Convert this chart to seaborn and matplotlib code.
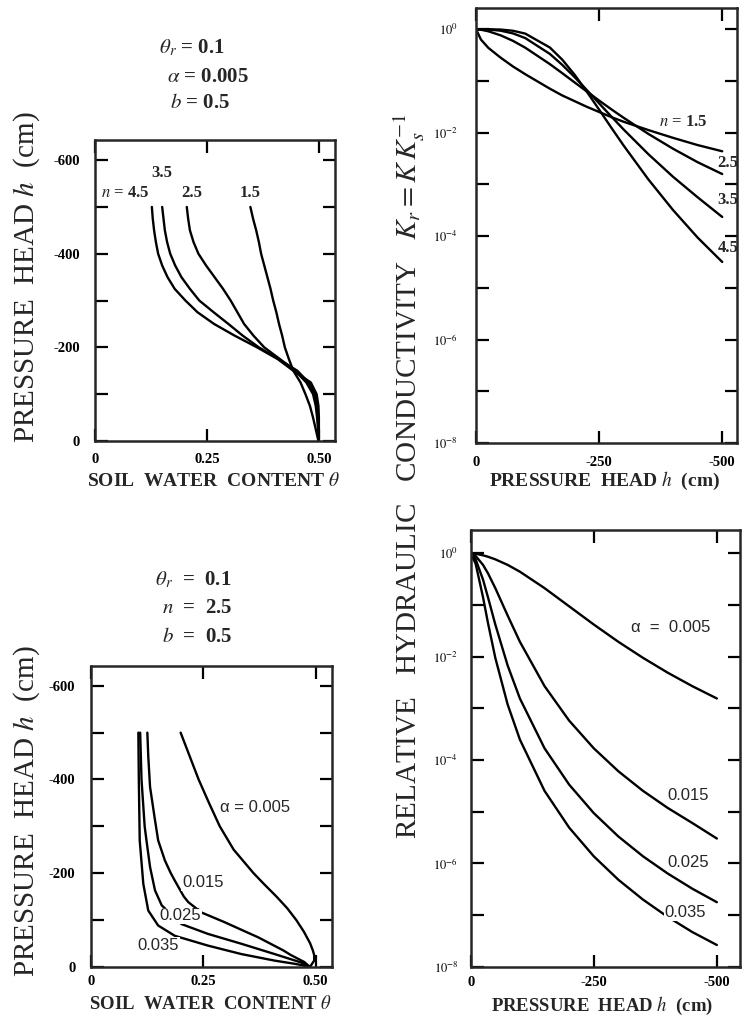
import numpy as np
import pandas as pd
import matplotlib
matplotlib.use("Agg")
import matplotlib.pyplot as plt
import seaborn as sns
from matplotlib.ticker import NullLocator

# ------------------------------------------------------------------ data
# Top-left: soil water content vs pressure head (alpha = 0.005)
h_tl = [0, -25, -50, -75, -100, -125, -150, -175, -200, -225, -250, -275, -300, -325, -350, -375, -400, -425, -450, -475, -500]
theta_tl_n15 = [0.499, 0.493, 0.487, 0.480, 0.470, 0.459, 0.443, 0.433, 0.424, 0.418, 0.411, 0.405, 0.398, 0.392, 0.385, 0.378, 0.371, 0.366, 0.360, 0.353, 0.347]
theta_tl_n25 = [0.499, 0.498, 0.496, 0.493, 0.487, 0.472, 0.447, 0.413, 0.378, 0.354, 0.333, 0.318, 0.303, 0.286, 0.267, 0.248, 0.231, 0.220, 0.212, 0.208, 0.205]
theta_tl_n35 = [0.499, 0.499, 0.498, 0.496, 0.491, 0.477, 0.452, 0.410, 0.366, 0.330, 0.298, 0.265, 0.233, 0.212, 0.193, 0.179, 0.168, 0.161, 0.156, 0.153, 0.150]
theta_tl_n45 = [0.500, 0.500, 0.500, 0.499, 0.495, 0.482, 0.443, 0.408, 0.362, 0.312, 0.266, 0.229, 0.202, 0.178, 0.162, 0.150, 0.141, 0.136, 0.132, 0.129, 0.127]

# Top-right: relative hydraulic conductivity (log10) vs pressure head
h_tr = [0, -10, -25, -50, -75, -100, -150, -175, -200, -225, -250, -275, -300, -350, -400, -450, -500]
logkr_tr_n15 = [0, -0.20, -0.36, -0.55, -0.72, -0.87, -1.15, -1.28, -1.39, -1.50, -1.60, -1.70, -1.79, -1.95, -2.10, -2.24, -2.36]
logkr_tr_n25 = [0, -0.01, -0.04, -0.118, -0.225, -0.357, -0.675, -0.849, -1.027, -1.204, -1.379, -1.550, -1.714, -2.024, -2.310, -2.571, -2.80]
logkr_tr_n35 = [0, 0, -0.005, -0.029, -0.081, -0.171, -0.478, -0.688, -0.924, -1.176, -1.433, -1.690, -1.941, -2.416, -2.852, -3.249, -3.63]
logkr_tr_n45 = [0, 0, -0.001, -0.007, -0.030, -0.085, -0.354, -0.587, -0.877, -1.207, -1.555, -1.907, -2.252, -2.904, -3.495, -4.028, -4.50]

# Bottom-left: soil water content vs pressure head (n = 2.5)
h_bl_a005 = [0, -13, -25, -35, -50, -75, -100, -125, -150, -175, -200, -225, -250, -300, -350, -400, -450, -500]
theta_bl_a005 = [0.488, 0.497, 0.497, 0.494, 0.488, 0.474, 0.457, 0.437, 0.413, 0.387, 0.362, 0.340, 0.318, 0.287, 0.263, 0.240, 0.220, 0.200]
h_bl_a015 = [0, -10, -25, -35, -50, -63, -75, -95, -116, -138, -150, -184, -200, -227, -270, -313, -384, -450, -500]
theta_bl_a015 = [0.487, 0.475, 0.445, 0.428, 0.398, 0.372, 0.344, 0.298, 0.246, 0.217, 0.207, 0.187, 0.178, 0.165, 0.150, 0.143, 0.132, 0.128, 0.126]
h_bl_a025 = [0, -9, -27, -49, -70, -91, -131, -163, -213, -270, -300, -400, -500]
theta_bl_a025 = [0.487, 0.468, 0.409, 0.335, 0.261, 0.202, 0.158, 0.143, 0.132, 0.124, 0.120, 0.113, 0.110]
h_bl_a035 = [0, -6, -13, -27, -45, -66, -88, -120, -177, -270, -400, -500]
theta_bl_a035 = [0.487, 0.455, 0.409, 0.335, 0.261, 0.187, 0.150, 0.128, 0.117, 0.109, 0.107, 0.106]

# Bottom-right: relative hydraulic conductivity (log10) vs pressure head
h_br = [0, -10, -25, -35, -50, -75, -100, -150, -200, -250, -300, -350, -400, -450, -500]
logkr_br_a005 = [0, -0.01, -0.04, -0.067, -0.118, -0.225, -0.357, -0.675, -1.027, -1.379, -1.714, -2.024, -2.310, -2.571, -2.81]
logkr_br_a015 = [0, -0.053, -0.225, -0.386, -0.675, -1.204, -1.714, -2.571, -3.239, -3.774, -4.219, -4.598, -4.927, -5.219, -5.52]
logkr_br_a025 = [0, -0.118, -0.509, -0.849, -1.379, -2.170, -2.812, -3.774, -4.477, -5.028, -5.481, -5.864, -6.196, -6.490, -6.752]
logkr_br_a035 = [0, -0.201, -0.849, -1.345, -2.024, -2.925, -3.607, -4.598, -5.309, -5.864, -6.318, -6.702, -7.035, -7.329, -7.58]

theta_ticks = [0, 0.25, 0.50]
theta_ticklabels = ["0", "0.25", "0.50"]
h_ticks = [0, -100, -200, -300, -400, -500, -600]
h_ticklabels = ["0", "", "-200", "", "-400", "", "-600"]
hx_ticks = [0, -250, -500]
hx_ticklabels = ["0", "-250", "-500"]
kr_ticks = [1e0, 1e-1, 1e-2, 1e-3, 1e-4, 1e-5, 1e-6, 1e-7, 1e-8]
kr_ticklabels = [r"$10^{0}$", "", r"$10^{-2}$", "", r"$10^{-4}$", "", r"$10^{-6}$", "", r"$10^{-8}$"]

# ------------------------------------------------------------------ style
sns.set_style("ticks")
plt.rcParams["font.family"] = ["Liberation Serif", "DejaVu Serif"]
plt.rcParams["mathtext.fontset"] = "stix"
plt.rcParams["axes.linewidth"] = 1.8

W, H = 745, 1018
fig = plt.figure(figsize=(W / 100, H / 100), dpi=100)


def box(x0, y0, x1, y1):
    return [x0 / W, 1 - y1 / H, (x1 - x0) / W, (y1 - y0) / H]


def fx(px):
    return px / W


def fy(py):
    return 1 - py / H


ax_tl = fig.add_axes(box(95, 140, 335, 441))
ax_tr = fig.add_axes(box(476, 8, 737, 443))
ax_bl = fig.add_axes(box(90.7, 665.7, 331.7, 966.7))
ax_br = fig.add_axes(box(470.7, 530, 740, 966.7))

LW = 1.7


def draw(ax, frames, x, y):
    df = pd.concat(frames, ignore_index=True)
    sns.lineplot(data=df, x=x, y=y, hue="curve", palette=["black"] * df["curve"].nunique(),
                 sort=False, estimator=None, legend=False, lw=LW, ax=ax)


# top-left
draw(ax_tl, [pd.DataFrame({"theta": t, "h": h_tl, "curve": c}) for t, c in
             [(theta_tl_n15, "1.5"), (theta_tl_n25, "2.5"), (theta_tl_n35, "3.5"), (theta_tl_n45, "4.5")]],
     "theta", "h")
# bottom-left
draw(ax_bl, [pd.DataFrame({"theta": t, "h": hh, "curve": c}) for t, hh, c in
             [(theta_bl_a005, h_bl_a005, "a005"), (theta_bl_a015, h_bl_a015, "a015"),
              (theta_bl_a025, h_bl_a025, "a025"), (theta_bl_a035, h_bl_a035, "a035")]],
     "theta", "h")
# top-right
draw(ax_tr, [pd.DataFrame({"h": h_tr, "kr": 10 ** np.array(k), "curve": c}) for k, c in
             [(logkr_tr_n15, "1.5"), (logkr_tr_n25, "2.5"), (logkr_tr_n35, "3.5"), (logkr_tr_n45, "4.5")]],
     "h", "kr")
# bottom-right
draw(ax_br, [pd.DataFrame({"h": h_br, "kr": 10 ** np.array(k), "curve": c}) for k, c in
             [(logkr_br_a005, "a005"), (logkr_br_a015, "a015"), (logkr_br_a025, "a025"), (logkr_br_a035, "a035")]],
     "h", "kr")

tick_kw = dict(which="both", direction="in", top=True, right=True, length=9, width=1.6, colors="black")

for ax, xpad in ((ax_tl, 9), (ax_bl, 6)):
    ax.set_xlim(0, 0.536)
    ax.set_ylim(0, -643)
    ax.set_xticks(theta_ticks, labels=theta_ticklabels, fontsize=10.5, fontweight="bold")
    ax.set_yticks(h_ticks, labels=h_ticklabels, fontsize=10.5, fontweight="bold")
    ax.tick_params(**tick_kw)
    ax.tick_params(axis="y", pad=11)
    ax.tick_params(axis="x", pad=xpad)
    ax.set_xlabel("")
    ax.set_ylabel("")

for ax, xr, ytop, xpad, ypad in ((ax_tr, -530, 10 ** 0.41, 9, 13), (ax_br, -547, 10 ** 0.45, 7, 9)):
    ax.set_yscale("log")
    ax.set_xlim(0, xr)
    ax.set_ylim(1e-8, ytop)
    ax.set_yticks(kr_ticks, labels=kr_ticklabels, fontsize=9)
    ax.yaxis.set_minor_locator(NullLocator())
    ax.set_xticks(hx_ticks, labels=hx_ticklabels, fontsize=10.5, fontweight="bold")
    ax.tick_params(**tick_kw)
    ax.tick_params(axis="y", pad=ypad)
    ax.tick_params(axis="x", pad=xpad)
    ax.set_xlabel("")
    ax.set_ylabel("")

# ------------------------------------------------------------------ curve labels
lab_serif = dict(fontsize=12, fontweight="bold", ha="center", va="center")
ax_tl.text(0.067, -529, r"$n$ = 4.5", **lab_serif)
ax_tl.text(0.150, -572, "3.5", **lab_serif)
ax_tl.text(0.2165, -529, "2.5", **lab_serif)
ax_tl.text(0.346, -529, "1.5", **lab_serif)

ax_tr.text(-421, 10 ** -1.79, r"$n$ = 1.5", **lab_serif)
ax_tr.text(-512, 10 ** -2.59, "2.5", **lab_serif)
ax_tr.text(-512, 10 ** -3.30, "3.5", **lab_serif)
ax_tr.text(-512, 10 ** -4.23, "4.5", **lab_serif)

lab_sans = dict(fontsize=12, family=["Liberation Sans", "DejaVu Sans"], ha="center", va="center", zorder=5,
                bbox=dict(facecolor="white", edgecolor="none", pad=0.5))
ax_bl.text(0.365, -341, "α = 0.005", **lab_sans)
ax_bl.text(0.249, -180, "0.015", **lab_sans)
ax_bl.text(0.200, -109, "0.025", **lab_sans)
ax_bl.text(0.150, -45, "0.035", **lab_sans)

ax_br.text(-407, 10 ** -1.43, "α  =  0.005", **lab_sans)
ax_br.text(-441, 10 ** -4.68, "0.015", **lab_sans)
ax_br.text(-441, 10 ** -5.98, "0.025", **lab_sans)
ax_br.text(-436, 10 ** -6.95, "0.035", **lab_sans)

# ------------------------------------------------------------------ parameter blocks
par = dict(fontsize=15, fontweight="bold", ha="center", va="center")
fig.text(fx(192), fy(48), r"$\theta_r$ = 0.1", **par)
fig.text(fx(208), fy(77), r"$\alpha$ = 0.005", **par)
fig.text(fx(200), fy(103), r"$b$ = 0.5", **par)
fig.text(fx(193), fy(580), r"$\theta_r$  =  0.1", **par)
fig.text(fx(197), fy(608), r"$n$  =  2.5", **par)
fig.text(fx(197), fy(637), r"$b$  =  0.5", **par)

# ------------------------------------------------------------------ axis titles
big = dict(fontsize=21, rotation=90, ha="center", va="center")
fig.text(fx(27), fy(277), r"PRESSURE  HEAD $h$  (cm)", **big)
fig.text(fx(27), fy(811), r"PRESSURE  HEAD $h$  (cm)", **big)
fig.text(fx(409), fy(476), r"RELATIVE   HYDRAULIC   CONDUCTIVITY   $K_r = K\,K_s^{-1}$", **big)

xl = dict(fontsize=14, fontweight="bold", ha="center", va="center")
fig.text(fx(213), fy(481), r"SOIL  WATER  CONTENT $\theta$", **xl)
fig.text(fx(605), fy(481), r"PRESSURE  HEAD $h$  (cm)", **xl)
xl2 = dict(xl, fontsize=13.5)
fig.text(fx(211), fy(1004), r"SOIL  WATER  CONTENT $\theta$", **xl2)
fig.text(fx(602), fy(1006), r"PRESSURE  HEAD $h$  (cm)", **xl2)

fig.savefig("out.png", dpi=100, facecolor="white")
